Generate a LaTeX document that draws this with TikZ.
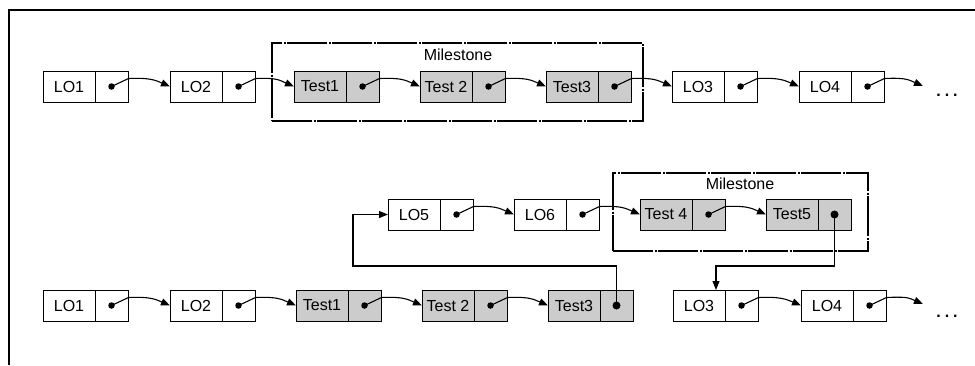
\documentclass[tikz,border=0pt]{standalone}
\usepackage{fontspec}
\setmainfont{Liberation Sans}
\usetikzlibrary{arrows.meta}
\definecolor{cellgray}{RGB}{204,204,204}
\newcommand\cellpair[6]{% name, x, y(top), text, fill, dot style
  \node[cellL, fill=#5] (#1) at (#2,#3) {#4};
  \node[cellR, fill=#5] (#1r) at (#1.north east) {};
  \node[#6] (#1d) at (#1r.center) {};
}
\newcommand\lnk[2]{\draw[conn] (#1d.center) -- +(17,-8) .. controls +(22,-1) and +(-14,-6) .. (#2);}
\begin{document}
\begin{tikzpicture}[x=1pt,y=-1pt,
  cellL/.style={draw, line width=1pt, minimum width=52pt, minimum height=31pt,
    inner sep=0pt, outer sep=0pt, anchor=north west, font=\fontsize{16}{18}\selectfont},
  cellR/.style={draw, line width=1pt, minimum width=33pt, minimum height=31pt,
    inner sep=0pt, outer sep=0pt, anchor=north west},
  conn/.style={line width=1.1pt, -{Triangle[length=9pt,width=7pt]}},
  ptr/.style={fill, circle, inner sep=0pt, minimum size=6.5pt},
  ptrbig/.style={fill, circle, inner sep=0pt, minimum size=8pt},
  milestone/.style={draw, line width=2.8pt, dash pattern=on 40pt off 1.5pt on 2pt off 1.5pt,
    inner sep=0pt, outer sep=0pt, anchor=north west},
  lbl/.style={font=\fontsize{16}{18}\selectfont},
  more/.style={font=\fontsize{16}{18}\selectfont\bfseries}]
\useasboundingbox (0,0) rectangle (975,365);
\draw[line width=2pt] (9,365) -- (9,10) -- (975,10);

% milestone frames
\node[milestone, minimum width=371pt, minimum height=78pt] (msA) at (272,43) {};
\node[lbl] (msAl) at (458,55) {Milestone};
\node[milestone, minimum width=255pt, minimum height=78pt] (msB) at (613,173) {};
\node[lbl] (msBl) at (740,184) {Milestone};

% row A
\cellpair{a1}{43}{71}{LO1}{white}{ptr}
\cellpair{a2}{170}{71}{LO2}{white}{ptr}
\cellpair{a3}{294}{71}{Test1}{cellgray}{ptr}
\cellpair{a4}{420}{71}{Test 2}{cellgray}{ptr}
\cellpair{a5}{546}{71}{Test3}{cellgray}{ptr}
\cellpair{a6}{672}{71}{LO3}{white}{ptr}
\cellpair{a7}{799}{71}{LO4}{white}{ptr}
\coordinate (aEnd) at (923,86);
\node[more] (aMore) at (947,95) {.\kern4pt.\kern4pt.};
\lnk{a1}{a2.west}
\lnk{a2}{a3.west}
\lnk{a3}{a4.west}
\lnk{a4}{a5.west}
\lnk{a5}{a6.west}
\lnk{a6}{a7.west}
\lnk{a7}{aEnd}

% row B
\cellpair{b1}{388}{199}{LO5}{white}{ptr}
\cellpair{b2}{514}{199}{LO6}{white}{ptr}
\cellpair{b3}{640}{199}{Test 4}{cellgray}{ptr}
\cellpair{b4}{766}{199}{Test5}{cellgray}{ptrbig}
\lnk{b1}{b2.west}
\lnk{b2}{b3.west}
\lnk{b3}{b4.west}

% row C
\cellpair{c1}{43}{290}{LO1}{white}{ptr}
\cellpair{c2}{170}{290}{LO2}{white}{ptr}
\cellpair{c3}{296}{290}{Test1}{cellgray}{ptr}
\cellpair{c4}{422}{290}{Test 2}{cellgray}{ptr}
\cellpair{c5}{548}{290}{Test3}{cellgray}{ptrbig}
\cellpair{c6}{673}{290}{LO3}{white}{ptr}
\cellpair{c7}{801}{290}{LO4}{white}{ptr}
\coordinate (cEnd) at (923,304);
\node[more] (cMore) at (947,316) {.\kern4pt.\kern4pt.};
\lnk{c1}{c2.west}
\lnk{c2}{c3.west}
\lnk{c3}{c4.west}
\lnk{c4}{c5.west}
\lnk{c6}{c7.west}
\lnk{c7}{cEnd}

% cross-links
\coordinate (bendL) at (353,266);
\coordinate (bendR) at (716,266);
\draw[conn] (c5d.center) |- (bendL) |- (b1.west);
\draw[conn] (b4d.center) |- (bendR) -- (bendR |- c6.north);
\end{tikzpicture}
\end{document}
